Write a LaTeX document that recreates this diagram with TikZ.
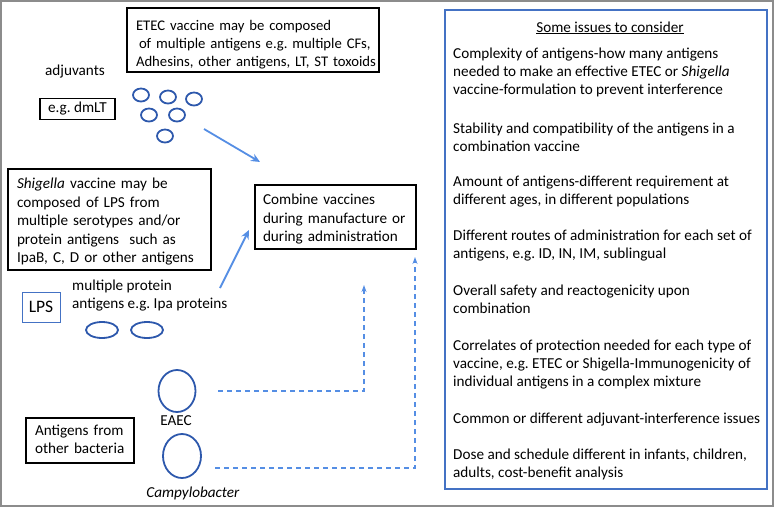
\documentclass[tikz,border=0pt]{standalone}
\usepackage{fontspec}
\setmainfont{Carlito}
\frenchspacing
\usetikzlibrary{shapes.geometric,arrows.meta}
\definecolor{frameg}{RGB}{140,140,140}
\definecolor{boxblue}{RGB}{68,114,196}
\definecolor{ellblue}{RGB}{45,88,172}
\definecolor{arrblue}{RGB}{85,142,228}
\newcommand{\topstrut}[1]{\rule{0pt}{#1}}
\newcommand{\botstrut}[1]{\rule[-#1]{0pt}{#1}}
\tikzset{
  txt/.style={font=\fontsize{15.2}{18}\selectfont, inner sep=0pt, align=left},
  bbox/.style={draw=black, line width=1.5pt, font=\fontsize{15.2}{18}\selectfont, align=left, inner ysep=0pt, anchor=north},
  ell/.style={ellipse, draw=ellblue, line width=1.8pt, inner sep=0pt},
  solidarrow/.style={draw=arrblue, line width=1.8pt, -{Stealth[length=9pt,width=8pt]}},
  dasharrow/.style={draw=arrblue, line width=1.6pt, dash pattern=on 5pt off 4pt, -{Stealth[length=7pt,width=5pt]}}
}
\begin{document}
\begin{tikzpicture}[x=1pt,y=-1pt]
\useasboundingbox (0,0) rectangle (774,507);
\draw[frameg, line width=1.8pt] (1,1) rectangle (773,506);

% right box (anchors at the baseline of each paragraph's last line)
\draw[boxblue, line width=2pt] (445,10) rectangle (767,489);
\node[txt, anchor=base] (title) at (610,32) {\underline{Some issues to consider}};
\node[txt, anchor=base west] (p1) at (453,94) {Complexity of antigens-how many antigens\\needed to make an effective ETEC or \textit{Shigella}\\vaccine-formulation to prevent interference};
\node[txt, anchor=base west] (p2) at (453,151) {Stability and compatibility of the antigens in a\\combination vaccine};
\node[txt, anchor=base west] (p3) at (453,204) {Amount of antigens-different requirement at\\different ages, in different populations};
\node[txt, anchor=base west] (p4) at (453,258) {Different routes of administration for each set of\\antigens, e.g. ID, IN, IM, sublingual};
\node[txt, anchor=base west] (p5) at (453,313) {Overall safety and reactogenicity upon\\combination};
\node[txt, anchor=base west] (p6) at (453,386) {Correlates of protection needed for each type of\\vaccine, e.g. ETEC or Shigella-Immunogenicity of\\individual antigens in a complex mixture};
\node[txt, anchor=base west] (p7) at (453,423) {Common or different adjuvant-interference issues};
\node[txt, anchor=base west] (p8) at (453,477) {Dose and schedule different in infants, children,\\adults, cost-benefit analysis};

% ETEC box: top 7, bottom 71
\node[bbox, inner xsep=9pt, text width=234pt, font=\fontsize{14.7}{18}\selectfont] (etec) at (253,7)
  {\topstrut{23pt}\mbox{ETEC vaccine may be composed}\\\mbox{\hspace*{3pt}of multiple antigens e.g. multiple CFs,}\\\mbox{Adhesins, other antigens, LT, ST toxoids}\botstrut{5pt}};
\node[txt] (adj) at (75,72) {adjuvants};
\node[bbox, anchor=center, inner xsep=0pt, minimum width=75pt, minimum height=21pt, align=center] (dmlt) at (77.5,109) {e.g. dmLT};

% small ETEC antigen ellipses
\foreach \n/\x/\y in {a1/141/95, a2/168/97, a3/194/99, a4/149/115, a5/177/115, a6/165/136}
  \node[ell, minimum width=16pt, minimum height=13pt] (\n) at (\x,\y) {};

% Shigella box: top 168, bottom 269
\node[bbox, inner xsep=9pt, text width=185pt, font=\fontsize{15.2}{18.5}\selectfont] (shig) at (109.5,168)
  {\topstrut{20pt}\textit{Shigella} vaccine may be\\composed of LPS from\\multiple serotypes and/or\\protein antigens\ \ such as\\IpaB, C, D or other antigens\botstrut{7pt}};

% Combine box: top 184, bottom 248
\node[bbox, inner xsep=8pt, text width=145pt, font=\fontsize{15.2}{18.5}\selectfont] (comb) at (335.5,184)
  {\topstrut{20pt}Combine vaccines\\during manufacture or\\during administration\botstrut{7pt}};

% LPS
\node[draw=boxblue, line width=1pt, minimum width=38pt, minimum height=30pt, inner sep=0pt, font=\fontsize{17.5}{20}\selectfont] (lps) at (41,307) {LPS};
\node[txt, anchor=west] (ipa) at (72,295.5) {multiple protein\\antigens e.g. Ipa proteins};
\node[ell, minimum width=32pt, minimum height=16pt] (ipa1) at (102,330) {};
\node[ell, minimum width=32pt, minimum height=16pt] (ipa2) at (147,330) {};

% other bacteria
\node[ell, minimum width=37pt, minimum height=42pt] (eaec) at (177,391) {};
\node[txt] (eaecl) at (176,421) {EAEC};
\node[ell, minimum width=38pt, minimum height=44pt] (campy) at (182,456) {};
\node[txt] (campyl) at (193,493) {\textit{Campylobacter}};
% other box: top 417, bottom 462
\node[bbox, inner xsep=9pt, text width=90pt] (other) at (80,417)
  {\topstrut{18pt}Antigens from\\other bacteria\botstrut{9pt}};

% connectors
\coordinate (s1) at (204,129);
\coordinate (t1) at (260,162);
\coordinate (s2) at (220,288);
\coordinate (t2) at (249,230);
\coordinate (d1s) at (218,391);
\coordinate (d1t) at (364,285);
\coordinate (d2s) at (215,468);
\coordinate (d2t) at (415,257);
\draw[solidarrow] (s1) -- (t1);
\draw[solidarrow] (s2) -- (t2);
\draw[dasharrow] (d1s) -| (d1t);
\draw[dasharrow] (d2s) -| (d2t);
\end{tikzpicture}
\end{document}
